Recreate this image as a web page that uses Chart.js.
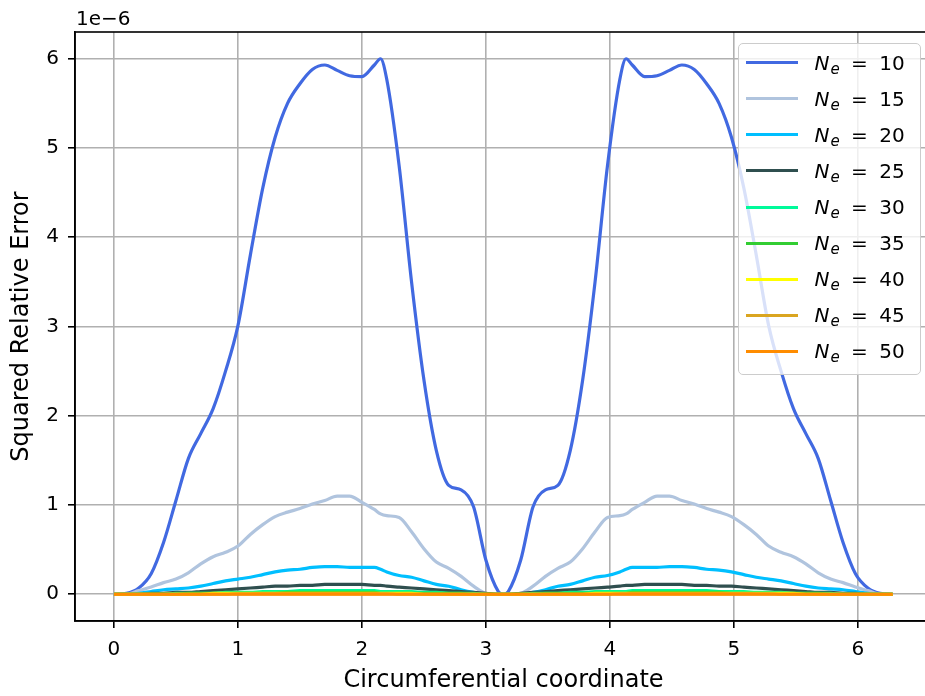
<!DOCTYPE html>
<html>
<head>
<meta charset="utf-8">
<script src="https://cdn.jsdelivr.net/npm/chart.js@4.4.0/dist/chart.umd.min.js"></script>
<style>
  html, body { margin: 0; padding: 0; background: #fff; overflow: hidden; }
  #wrap { position: relative; width: 935px; height: 696px; }
  #offset { position: absolute; left: 76px; top: 8px; font: 20px "DejaVu Sans"; line-height: 20px; color: #000; }
  #legend { position: absolute; left: 738px; top: 43px; width: 183px; height: 332px; box-sizing: border-box;
            border: 1.5px solid #cccccc; border-radius: 5px; background: rgba(255,255,255,0.8); }
  .row { position: absolute; left: 0; width: 100%; height: 0; }
  .swatch { position: absolute; left: 6.5px; width: 52px; height: 3px; top: -1.5px; }
  .lab { position: absolute; left: 75.5px; top: -10px; font: 20px "DejaVu Sans"; line-height: 20px; white-space: nowrap; color: #000; word-spacing: 5px; }
  .lab i { font-style: oblique; }
  .lab sub { font-size: 15px; font-style: oblique; vertical-align: -4px; line-height: 0; margin-left: 1px; }
</style>
</head>
<body>
<div id="wrap">
  <canvas id="errChart" width="935" height="696"></canvas>
  <div id="offset">1e−6</div>
  <div id="legend"></div>
</div>
<script>
// circumferential coordinate
const xs = [0, 0.1, 0.2, 0.3, 0.4, 0.5, 0.6, 0.7, 0.8, 0.9, 1.0, 1.1, 1.2, 1.3, 1.4, 1.5, 1.6, 1.7, 1.8, 1.9, 2.0, 2.1, 2.15, 2.2, 2.3, 2.4, 2.5, 2.6, 2.7, 2.8, 2.9, 3.0, 3.1, 3.14,
  3.18, 3.28, 3.38, 3.48, 3.58, 3.68, 3.78, 3.88, 3.98, 4.08, 4.13, 4.18, 4.28, 4.38, 4.48, 4.58, 4.68, 4.78, 4.88, 4.98, 5.08, 5.18, 5.28, 5.38, 5.48, 5.58, 5.68, 5.78, 5.88, 5.98, 6.08, 6.18, 6.28];

// squared relative error, in units of 1e-6
const err10 = [0, 0.01, 0.07, 0.23, 0.58, 1.05, 1.52, 1.80, 2.08, 2.50, 3.01, 3.80, 4.55, 5.12, 5.50, 5.72, 5.88, 5.93, 5.87, 5.81, 5.80, 5.93, 6.00, 5.77, 4.80, 3.50, 2.40, 1.61, 1.22, 1.17, 0.98, 0.38, 0.03, 0,
  0.03, 0.38, 0.98, 1.17, 1.22, 1.61, 2.40, 3.50, 4.80, 5.77, 6.00, 5.93, 5.80, 5.81, 5.87, 5.93, 5.88, 5.72, 5.50, 5.12, 4.55, 3.80, 3.01, 2.50, 2.08, 1.80, 1.52, 1.05, 0.58, 0.23, 0.07, 0.01, 0];
const err15 = [0, 0, 0.04, 0.08, 0.13, 0.17, 0.24, 0.34, 0.42, 0.47, 0.54, 0.67, 0.78, 0.87, 0.92, 0.96, 1.01, 1.05, 1.10, 1.10, 1.03, 0.95, 0.90, 0.88, 0.86, 0.70, 0.51, 0.36, 0.29, 0.20, 0.09, 0.01, 0, 0,
  0, 0.01, 0.09, 0.20, 0.29, 0.36, 0.51, 0.70, 0.86, 0.88, 0.90, 0.95, 1.03, 1.10, 1.10, 1.05, 1.01, 0.96, 0.92, 0.87, 0.78, 0.67, 0.54, 0.47, 0.42, 0.34, 0.24, 0.17, 0.13, 0.08, 0.04, 0, 0];
const err20 = [0, 0, 0.01, 0.03, 0.05, 0.06, 0.07, 0.09, 0.12, 0.15, 0.17, 0.19, 0.22, 0.25, 0.27, 0.28, 0.30, 0.31, 0.31, 0.30, 0.30, 0.30, 0.28, 0.25, 0.21, 0.19, 0.15, 0.11, 0.09, 0.05, 0.02, 0, 0, 0,
  0, 0, 0.02, 0.05, 0.09, 0.11, 0.15, 0.19, 0.21, 0.25, 0.28, 0.30, 0.30, 0.30, 0.31, 0.31, 0.30, 0.28, 0.27, 0.25, 0.22, 0.19, 0.17, 0.15, 0.12, 0.09, 0.07, 0.06, 0.05, 0.03, 0.01, 0, 0];
const err25 = [0, 0, 0, 0.01, 0.01, 0.02, 0.02, 0.03, 0.04, 0.05, 0.06, 0.07, 0.08, 0.09, 0.09, 0.10, 0.10, 0.11, 0.11, 0.11, 0.11, 0.10, 0.10, 0.09, 0.08, 0.07, 0.06, 0.05, 0.04, 0.03, 0.02, 0.01, 0, 0,
  0, 0.01, 0.02, 0.03, 0.04, 0.05, 0.06, 0.07, 0.08, 0.09, 0.10, 0.10, 0.11, 0.11, 0.11, 0.11, 0.10, 0.10, 0.09, 0.09, 0.08, 0.07, 0.06, 0.05, 0.04, 0.03, 0.02, 0.02, 0.01, 0.01, 0, 0, 0];
const err30 = [0, 0, 0, 0, 0, 0.01, 0.01, 0.01, 0.01, 0.02, 0.02, 0.02, 0.03, 0.03, 0.03, 0.04, 0.04, 0.04, 0.04, 0.04, 0.04, 0.04, 0.03, 0.03, 0.03, 0.03, 0.02, 0.02, 0.01, 0.01, 0.01, 0, 0, 0,
  0, 0, 0.01, 0.01, 0.01, 0.02, 0.02, 0.03, 0.03, 0.03, 0.03, 0.04, 0.04, 0.04, 0.04, 0.04, 0.04, 0.04, 0.03, 0.03, 0.03, 0.02, 0.02, 0.02, 0.01, 0.01, 0.01, 0.01, 0, 0, 0, 0, 0];
const err35 = [0, 0, 0, 0, 0, 0, 0.01, 0.01, 0.01, 0.01, 0.01, 0.01, 0.01, 0.01, 0.02, 0.02, 0.02, 0.02, 0.02, 0.02, 0.02, 0.02, 0.01, 0.01, 0.01, 0.01, 0.01, 0.01, 0.01, 0.01, 0, 0, 0, 0,
  0, 0, 0, 0.01, 0.01, 0.01, 0.01, 0.01, 0.01, 0.01, 0.01, 0.02, 0.02, 0.02, 0.02, 0.02, 0.02, 0.02, 0.02, 0.01, 0.01, 0.01, 0.01, 0.01, 0.01, 0.01, 0.01, 0, 0, 0, 0, 0, 0];
const err40 = [0, 0, 0, 0, 0, 0, 0, 0, 0.01, 0.01, 0.01, 0.01, 0.01, 0.01, 0.01, 0.01, 0.01, 0.01, 0.01, 0.01, 0.01, 0.01, 0.01, 0.01, 0.01, 0.01, 0, 0, 0, 0, 0, 0, 0, 0,
  0, 0, 0, 0, 0, 0, 0, 0.01, 0.01, 0.01, 0.01, 0.01, 0.01, 0.01, 0.01, 0.01, 0.01, 0.01, 0.01, 0.01, 0.01, 0.01, 0.01, 0.01, 0.01, 0, 0, 0, 0, 0, 0, 0, 0];
const err45 = [0, 0, 0, 0, 0, 0, 0, 0, 0, 0, 0.005, 0.005, 0.005, 0.005, 0.005, 0.005, 0.005, 0.005, 0.005, 0.005, 0.005, 0.005, 0.005, 0.005, 0, 0, 0, 0, 0, 0, 0, 0, 0, 0,
  0, 0, 0, 0, 0, 0, 0, 0, 0, 0.005, 0.005, 0.005, 0.005, 0.005, 0.005, 0.005, 0.005, 0.005, 0.005, 0.005, 0.005, 0.005, 0.005, 0, 0, 0, 0, 0, 0, 0, 0, 0, 0];
const err50 = [0, 0, 0, 0, 0, 0, 0, 0, 0, 0, 0, 0, 0.002, 0.002, 0.002, 0.002, 0.002, 0.002, 0.002, 0.002, 0.002, 0.002, 0, 0, 0, 0, 0, 0, 0, 0, 0, 0, 0, 0,
  0, 0, 0, 0, 0, 0, 0, 0, 0, 0, 0, 0.002, 0.002, 0.002, 0.002, 0.002, 0.002, 0.002, 0.002, 0.002, 0.002, 0, 0, 0, 0, 0, 0, 0, 0, 0, 0, 0, 0];

const elements = [10, 15, 20, 25, 30, 35, 40, 45, 50];
const series = [err10, err15, err20, err25, err30, err35, err40, err45, err50];
const colors = ['#4169e1', '#b0c4de', '#00bfff', '#2f4f4f', '#00fa9a', '#32cd32', '#ffff00', '#daa520', '#ff8c00'];

const tickFont = { family: 'DejaVu Sans', size: 20 };
const labelFont = { family: 'DejaVu Sans', size: 24 };
const gridOpts = { color: '#b0b0b0', lineWidth: 1.6, tickColor: '#000', tickLength: 7, tickWidth: 1.6 };

// draw the top/right spines too
const frame = {
    id: 'frame',
    afterDatasetsDraw(chart) {
        const { ctx, chartArea: a } = chart;
        ctx.save();
        ctx.strokeStyle = '#000';
        ctx.lineWidth = 1.6;
        ctx.strokeRect(a.left, a.top, a.right - a.left, a.bottom - a.top);
        ctx.restore();
    }
};

new Chart(document.getElementById('errChart'), {
    type: 'line',
    data: {
        datasets: series.map((vals, i) => ({
            label: 'N_e = ' + elements[i],
            data: vals.map((v, k) => ({ x: xs[k], y: v })),
            borderColor: colors[i],
            backgroundColor: colors[i],
            borderWidth: 3.2,
            pointRadius: 0,
            fill: false,
            cubicInterpolationMode: 'monotone',
            order: series.length - i
        }))
    },
    options: {
        responsive: false,
        animation: false,
        layout: { padding: { top: 32, right: 3, bottom: 0, left: 0 } },
        plugins: { legend: { display: false }, tooltip: { enabled: false } },
        scales: {
            x: {
                type: 'linear',
                min: -0.1 * Math.PI,
                max: 2.1 * Math.PI,
                afterFit: s => { s.height = 75; },
                ticks: { stepSize: 1, includeBounds: false, padding: 10, color: '#000', font: tickFont, maxRotation: 0 },
                grid: gridOpts,
                border: { color: '#000', width: 1.6 },
                title: { display: true, text: 'Circumferential coordinate', color: '#000', font: labelFont, padding: { top: 0, bottom: 1 } }
            },
            y: {
                min: -0.3,
                max: 6.3,
                afterFit: s => { s.width = 75; },
                ticks: { stepSize: 1, includeBounds: false, padding: 9, color: '#000', font: tickFont },
                grid: gridOpts,
                border: { color: '#000', width: 1.6 },
                title: { display: true, text: 'Squared Relative Error', color: '#000', font: labelFont, padding: { top: 7, bottom: 0 } }
            }
        }
    },
    plugins: [frame]
});

// legend inside the axes, upper right
const legend = document.getElementById('legend');
elements.forEach((n, i) => {
    const row = document.createElement('div');
    row.className = 'row';
    row.style.top = (18.8 + 36.05 * i) + 'px';
    row.innerHTML = '<span class="swatch" style="background:' + colors[i] + '"></span>' +
        '<span class="lab"><i>N</i><sub>e</sub> = ' + n + '</span>';
    legend.appendChild(row);
});
</script>
</body>
</html>
